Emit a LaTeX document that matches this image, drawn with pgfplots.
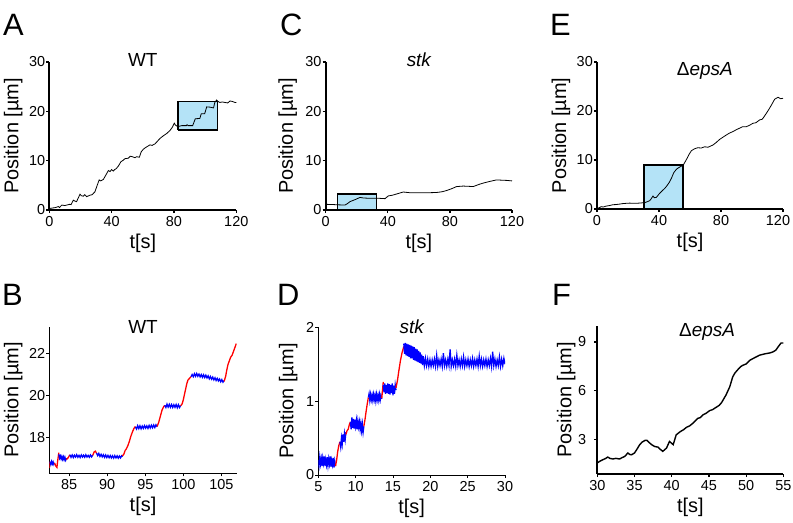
\documentclass[border=0pt]{standalone}
\usepackage{fontspec}
\setmainfont{Liberation Sans}
\usepackage{pgfplots}
\pgfplotsset{compat=1.18}
\definecolor{boxblue}{HTML}{B4E3F7}

\pgfplotsset{
  panel/.style={
    scale only axis, anchor=south west,
    axis lines=left, axis line style={-, line width=1.8bp},
    tick align=outside, major tick length=3bp,
    tick style={line width=1.2bp, black},
    /pgf/number format/assume math mode=true,
    tick label style={font=\fontsize{14.5}{16}\selectfont},
    yticklabel style={inner xsep=1bp},
    label style={font=\fontsize{20}{22}\selectfont},
    title style={font=\fontsize{19}{21}\selectfont, anchor=base},
    xlabel={t[s]}, ylabel={Position [µm]},
    xlabel style={at={(axis description cs:0.5,0)}, anchor=center, yshift=-33bp},
  },
  thin panel/.style={panel, axis line style={-, line width=0.8bp}, tick style={line width=0.8bp, black}},
  trace/.style={black, line width=0.8bp, no marks},
  blu/.style={blue, line width=1.3bp, no marks},
  rd/.style={red, line width=1.3bp, no marks},
}

\begin{document}
\begin{tikzpicture}
\useasboundingbox (0,0) rectangle (793bp,-523bp);

% panel letters
\foreach \l/\x/\y in {A/3/35, C/280/35, E/550/35, B/2/305, D/277/305, F/552/305}
  \node[anchor=base west, inner sep=0pt, font=\fontsize{31}{33}\selectfont] at (\x bp,-\y bp) {\l};

% A
\begin{axis}[panel, at={(49.3bp,-210bp)}, width=187bp, height=148bp,
  xmin=0, xmax=120, ymin=0, ymax=30, xtick={0,40,80,120}, ytick={0,10,20,30},
  title={WT}, title style={at={(0.5,1)}, yshift=-10bp},
  ylabel style={at={(axis description cs:0,0.5)}, anchor=center, yshift=36bp}]
\addplot[fill=boxblue, draw=black, line width=1.5bp] coordinates {(82.5,16.2) (107.8,16.2) (107.8,22) (82.5,22) (82.5,16.2)};
\addplot[trace] coordinates {(0,0.3) (2,0.4) (4,0.5) (5.8,0.7) (6.5,0.5) (8,1.0) (10,0.9) (13,1.15) (14,1.1) (15.4,2.0) (16.5,1.8) (17.5,1.7) (19.7,3.2) (20.5,2.9) (21.8,2.8) (22.8,3.1) (24,2.7) (26,3.0) (27.5,3.1) (29.3,3.7) (30.5,4.8) (32,6.1) (33,5.9) (34.7,6.2) (36.5,7.2) (37.9,8.0) (39,7.8) (40,8.2) (41,7.9) (42,8.2) (43,8.4) (44.3,8.9) (46,9.8) (47.5,10.1) (48.5,10.4) (50.7,10.5) (52,10.9) (53.3,10.8) (55,10.6) (56,10.8) (57.8,10.7) (59,11.8) (60.3,12.3) (61.5,12.6) (62.5,12.8) (64.6,13.2) (66,13.1) (67.8,13.4) (69,13.8) (71,14.5) (73,15.0) (75.3,15.5) (77.4,16.1) (79,16.8) (80.2,17.6) (81,17.2) (82.4,16.9) (85,17.1) (88,17.1) (88.4,17.3) (89,17.1) (92,17.1) (93.7,18.5) (96.6,18.55) (97.5,19.5) (99.7,19.5) (101,20.9) (103,20.85) (105.4,20.7) (106.2,21.8) (107.4,22.3) (108.3,22.0) (109.5,21.8) (111,21.9) (112.7,21.8) (114.5,21.7) (116,22.1) (117.5,22.0) (119.1,21.8) (120,21.8)};
\end{axis}

% C
\begin{axis}[panel, at={(325.7bp,-210bp)}, width=186.3bp, height=148bp,
  xmin=0, xmax=120, ymin=0, ymax=30, xtick={0,40,80,120}, ytick={0,10,20,30},
  title={\itshape stk}, title style={at={(0.5,1)}, yshift=-10bp},
  ylabel style={at={(axis description cs:0,0.5)}, anchor=center, yshift=38bp}]
\addplot[fill=boxblue, draw=black, line width=1.5bp] coordinates {(7.5,0) (32.8,0) (32.8,3.25) (7.5,3.25) (7.5,0)};
\addplot[trace] coordinates {(0,1.15) (4.9,1.1) (8,1.05) (12.4,1.0) (14,1.3) (15.7,1.7) (18.9,2.1) (22.1,2.55) (24,2.45) (26.4,2.4) (32.8,2.4) (38.2,2.3) (40.3,2.85) (43,3.0) (45.7,3.25) (50,3.65) (54.3,3.5) (60.7,3.5) (66,3.5) (71.4,3.55) (75,3.7) (77.9,3.95) (81,4.3) (84.3,4.75) (88.6,4.85) (92,4.8) (95,4.75) (99.3,5.25) (102,5.5) (105.8,5.8) (110,6.1) (113,6.05) (116.5,6.0) (120,5.9)};
\end{axis}

% E
\begin{axis}[panel, at={(597bp,-209bp)}, width=186bp, height=147bp,
  xmin=0, xmax=120, ymin=0, ymax=30, xtick={0,40,80}, ytick={0,10,20,30},
  extra x ticks={120}, extra x tick style={xticklabel style={xshift=-5bp}},
  title={Δ\textit{epsA}}, title style={at={(0.58,1)}, yshift=-19bp},
  ylabel style={at={(axis description cs:0,0.5)}, anchor=center, yshift=36bp}]
\addplot[fill=boxblue, draw=black, line width=1.5bp] coordinates {(30.3,0) (55.6,0) (55.6,8.95) (30.3,8.95) (30.3,0)};
\addplot[trace] coordinates {(0,0.1) (0.6,0.14) (2.8,0.48) (4,0.4) (6,0.6) (8,0.7) (10.3,0.88) (12,0.9) (14.6,1.0) (16.5,1.1) (18.9,1.16) (21,1.2) (24.3,1.16) (27,1.2) (30.8,1.3) (32.5,1.5) (34,1.7) (35,2.1) (36.1,2.65) (37,2.3) (38.3,2.38) (40.4,3.2) (42,3.7) (43.7,4.2) (45,4.7) (46.5,5.37) (48,6.26) (49.5,7.4) (51.2,8.1) (52.5,8.4) (53.8,8.64) (55.5,8.9) (56.8,9.6) (58.1,10.34) (59.5,11.2) (60.9,11.9) (63,12.3) (65,12.5) (67.3,12.45) (69.5,12.7) (71.6,12.6) (73,12.8) (74.8,13.06) (77,13.6) (79.1,14.2) (81,14.6) (83.4,15.1) (85.5,15.5) (87.7,15.8) (90,16.2) (92,16.5) (94,16.8) (96.3,16.8) (98.5,17.1) (100.6,17.5) (102.5,17.6) (105,18.2) (106.5,18.3) (107.5,18.7) (109.2,19.5) (111,20.4) (112.5,21.2) (114.6,22.4) (116.8,22.8) (118.5,22.5) (120,22.6)};
\end{axis}

% B
\begin{axis}[thin panel, at={(49.3bp,-473.3bp)}, width=187.4bp, height=146.6bp,
  xmin=82.4, xmax=107, ymin=16.3, ymax=23.25, xtick={85,90,...,105}, ytick={18,20,22},
  title={WT}, title style={at={(0.5,1)}, yshift=-12.5bp},
  ylabel style={at={(axis description cs:0,0.5)}, anchor=center, yshift=36bp}]
\addplot[rd] coordinates {(82.4,16.55) (82.5,16.85)};
\addplot[blu] coordinates {(82.5,16.85) (82.6,16.72) (82.7,16.86) (82.8,16.74) (82.9,16.84) (83.0,16.72) (83.1,16.8)};
\addplot[rd] coordinates {(83.1,16.78) (83.25,16.65) (83.4,16.58) (83.5,16.9) (83.65,17.28)};
\addplot[blu] coordinates {(83.65,17.2) (83.75,17.02) (83.85,17.12) (83.95,16.98) (84.05,17.1) (84.15,16.96) (84.25,17.08) (84.35,16.94) (84.45,17.06) (84.55,16.92) (84.65,17.02)};
\addplot[rd] coordinates {(84.65,16.95) (84.9,17.05) (85.1,17.18)};
\addplot[blu] coordinates {(85.1,17.18) (85.25,17.06) (85.4,17.17) (85.55,17.05) (85.7,17.16) (85.85,17.07) (86.0,17.18) (86.15,17.06) (86.3,17.15) (86.45,17.05) (86.6,17.17) (86.75,17.07) (86.9,17.16) (87.05,17.06) (87.2,17.18) (87.35,17.07) (87.5,17.15) (87.65,17.06) (87.8,17.17) (87.95,17.08) (88.1,17.16)};
\addplot[rd] coordinates {(88.1,17.15) (88.3,17.32) (88.45,17.35) (88.6,17.25)};
\addplot[blu] coordinates {(88.6,17.26) (88.75,17.14) (88.9,17.24) (89.05,17.1) (89.2,17.2) (89.35,17.08) (89.5,17.18) (89.65,17.06) (89.8,17.17) (89.95,17.05) (90.1,17.15) (90.25,17.04) (90.4,17.14) (90.55,17.03) (90.7,17.13) (90.85,17.02) (91.0,17.14) (91.15,17.03) (91.3,17.13) (91.45,17.02) (91.6,17.12) (91.75,17.03) (91.9,17.13) (92.0,17.08)};
\addplot[rd] coordinates {(92.0,17.12) (92.2,17.22) (92.35,17.38) (92.5,17.45) (92.7,17.6) (92.9,17.8) (93.1,18.05) (93.3,18.25) (93.5,18.42) (93.7,18.52)};
\addplot[blu] coordinates {(93.7,18.5) (93.85,18.4) (94.0,18.56) (94.15,18.42) (94.3,18.55) (94.45,18.41) (94.6,18.54) (94.75,18.43) (94.9,18.56) (95.05,18.44) (95.2,18.55) (95.35,18.43) (95.5,18.57) (95.65,18.45) (95.8,18.58) (95.95,18.46) (96.1,18.59) (96.25,18.47) (96.4,18.6) (96.55,18.5)};
\addplot[rd] coordinates {(96.55,18.52) (96.75,18.7) (96.9,18.9) (97.05,19.1) (97.2,19.3) (97.4,19.45) (97.55,19.52)};
\addplot[blu] coordinates {(97.55,19.52) (97.7,19.42) (97.85,19.58) (98.0,19.44) (98.15,19.57) (98.3,19.43) (98.45,19.56) (98.6,19.42) (98.75,19.55) (98.9,19.43) (99.05,19.56) (99.2,19.41) (99.35,19.55) (99.5,19.42) (99.65,19.52)};
\addplot[rd] coordinates {(99.65,19.5) (99.85,19.6) (100.0,19.8) (100.15,20.05) (100.3,20.3) (100.45,20.55) (100.6,20.72) (100.8,20.8) (101.0,20.88)};
\addplot[blu] coordinates {(101.0,20.88) (101.15,20.98) (101.3,20.88) (101.45,21.02) (101.6,20.9) (101.75,21.03) (101.9,20.9) (102.05,21.0) (102.2,20.87) (102.35,20.98) (102.5,20.85) (102.65,20.97) (102.8,20.84) (102.95,20.95) (103.1,20.82) (103.25,20.92) (103.4,20.78) (103.55,20.89) (103.7,20.76) (103.85,20.86) (104.0,20.73) (104.15,20.83) (104.3,20.7) (104.45,20.8) (104.6,20.68) (104.75,20.77) (104.9,20.64) (105.05,20.74) (105.2,20.62) (105.35,20.7)};
\addplot[rd] coordinates {(105.35,20.66) (105.55,20.9) (105.7,21.2) (105.85,21.45) (106.0,21.6) (106.2,21.8) (106.4,21.9) (106.6,22.1) (106.8,22.3) (106.95,22.45)};
\end{axis}

% D
\begin{axis}[thin panel, at={(318.3bp,-475bp)}, width=186.7bp, height=147.7bp,
  xmin=5, xmax=30, ymin=0, ymax=2, xtick={5,10,...,30}, ytick={0,1,2},
  title={\itshape stk}, title style={at={(0.5,1)}, yshift=-12bp},
  ylabel style={at={(axis description cs:0,0.5)}, anchor=center, yshift=30bp}]
\addplot[blu] coordinates {(5.0,0.20) (5.1,0.13) (5.2,0.24) (5.3,0.15) (5.4,0.22) (5.5,0.12) (5.6,0.23) (5.7,0.16) (5.8,0.25) (5.9,0.12) (6.0,0.21) (6.1,0.14) (6.2,0.24) (6.3,0.13) (6.4,0.22) (6.5,0.15) (6.6,0.25) (6.7,0.11) (6.8,0.20) (6.9,0.14) (7.0,0.23) (7.1,0.10) (7.2,0.19) (7.3,0.12)};
\addplot[rd] coordinates {(7.3,0.12) (7.45,0.20) (7.6,0.32) (7.75,0.40) (7.9,0.45)};
\addplot[blu] coordinates {(7.9,0.45) (8.0,0.38) (8.1,0.50) (8.2,0.42) (8.3,0.55) (8.4,0.45) (8.5,0.56) (8.6,0.48) (8.7,0.58)};
\addplot[rd] coordinates {(8.7,0.55) (8.85,0.60) (9.0,0.62) (9.15,0.68) (9.3,0.72)};
\addplot[blu] coordinates {(9.3,0.72) (9.4,0.62) (9.5,0.78) (9.6,0.64) (9.7,0.76) (9.8,0.63) (9.9,0.75) (10.0,0.66) (10.1,0.74) (10.2,0.62) (10.3,0.73) (10.4,0.65) (10.5,0.72) (10.6,0.62) (10.7,0.70) (10.8,0.60) (10.9,0.69) (11.0,0.58) (11.1,0.66)};
\addplot[rd] coordinates {(11.1,0.66) (11.25,0.75) (11.4,0.86) (11.55,0.96) (11.7,1.05)};
\addplot[blu] coordinates {(11.7,1.05) (11.8,1.10) (11.9,1.01) (12.0,1.09) (12.1,1.02) (12.2,1.08) (12.3,1.01) (12.4,1.09) (12.5,1.02) (12.6,1.08) (12.7,1.00) (12.8,1.09) (12.9,1.02) (13.0,1.08) (13.1,1.01) (13.2,1.09) (13.3,1.02) (13.4,1.08) (13.5,1.03)};
\addplot[rd] coordinates {(13.5,1.04) (13.6,1.15) (13.7,1.26)};
\addplot[blu] coordinates {(13.7,1.22) (13.8,1.12) (13.9,1.24) (14.0,1.10) (14.1,1.22) (14.2,1.11) (14.3,1.24) (14.4,1.10) (14.5,1.23) (14.6,1.09) (14.7,1.22) (14.8,1.11) (14.9,1.24) (15.0,1.08) (15.1,1.21) (15.2,1.10) (15.3,1.22) (15.4,1.15)};
\addplot[rd] coordinates {(15.4,1.18) (15.6,1.28) (15.8,1.42) (16.0,1.55) (16.2,1.65) (16.45,1.74)};
\addplot[blu] coordinates {(16.45,1.78) (16.55,1.64) (16.65,1.79) (16.75,1.62) (16.85,1.78) (16.95,1.61) (17.05,1.77) (17.15,1.6) (17.25,1.76) (17.35,1.58) (17.45,1.75) (17.55,1.58) (17.65,1.74) (17.75,1.56) (17.85,1.73) (17.95,1.55) (18.05,1.71) (18.15,1.54) (18.25,1.7) (18.35,1.53) (18.45,1.68) (18.55,1.52) (18.65,1.66) (18.75,1.51) (18.85,1.63) (18.95,1.49) (19.05,1.61) (19.2,1.48) (19.35,1.58) (19.5,1.48) (19.65,1.57) (19.8,1.47) (19.95,1.56) (20.1,1.47) (20.25,1.56) (20.4,1.48) (20.55,1.57) (20.7,1.47) (20.85,1.62) (21.0,1.47) (21.15,1.56) (21.3,1.48) (21.45,1.57) (21.6,1.47) (21.75,1.65) (21.9,1.48) (22.05,1.56) (22.2,1.47) (22.35,1.57) (22.5,1.48) (22.65,1.7) (22.8,1.47) (22.95,1.56) (23.1,1.48) (23.25,1.57) (23.4,1.47) (23.55,1.62) (23.7,1.48) (23.85,1.56) (24.0,1.47) (24.15,1.57) (24.3,1.48) (24.45,1.6) (24.6,1.47) (24.75,1.56) (24.9,1.48) (25.05,1.57) (25.2,1.47) (25.35,1.56) (25.5,1.48) (25.65,1.58) (25.8,1.47) (25.95,1.56) (26.1,1.48) (26.25,1.57) (26.4,1.47) (26.55,1.61) (26.7,1.48) (26.85,1.57) (27.0,1.47) (27.15,1.56) (27.3,1.48) (27.45,1.57) (27.6,1.47) (27.75,1.56) (27.9,1.48) (28.05,1.58) (28.2,1.47) (28.35,1.67) (28.5,1.48) (28.65,1.57) (28.8,1.47) (28.95,1.56) (29.1,1.48) (29.25,1.6) (29.4,1.47) (29.55,1.57) (29.7,1.48) (29.85,1.58) (30.0,1.5)};
\end{axis}

% F
\begin{axis}[panel, at={(597.3bp,-474bp)}, width=186bp, height=148.3bp,
  xmin=30, xmax=55, ymin=0.9, ymax=10, xtick={30,35,...,55}, ytick={3,6,9},
  yticklabel style={xshift=-7bp},
  title={Δ\textit{epsA}}, title style={at={(0.59,1)}, yshift=-17bp},
  ylabel style={at={(axis description cs:0,0.5)}, anchor=center, yshift=31bp}]
\addplot[black, line width=1.4bp, no marks] coordinates {(30,1.58) (30.4,1.7) (30.76,1.78) (31.1,1.85) (31.4,1.94) (31.7,1.86) (32.1,1.82) (32.5,1.86) (33,1.82) (33.3,1.9) (33.7,1.98) (34.1,2.19) (34.35,2.1) (34.6,2.08) (35,2.19) (35.3,2.4) (35.7,2.7) (36,2.85) (36.4,2.96) (36.7,2.96) (37,2.82) (37.3,2.7) (37.7,2.59) (38.15,2.55) (38.5,2.4) (38.8,2.29) (39.3,2.49) (39.7,2.9) (40.2,2.7) (40.6,3.3) (41.15,3.5) (41.6,3.62) (42,3.77) (42.4,3.85) (42.86,4.02) (43.5,4.32) (43.8,4.35) (44.2,4.53) (44.6,4.62) (45.1,4.79) (45.5,4.85) (46,5.0) (46.4,5.12) (46.7,5.28) (47.3,5.75) (47.8,6.25) (48.2,6.86) (48.5,7.1) (48.9,7.31) (49.3,7.5) (49.6,7.58) (50,7.65) (50.5,7.88) (51.2,8.05) (51.8,8.19) (52.3,8.25) (52.7,8.29) (53.2,8.33) (53.6,8.39) (54,8.5) (54.3,8.7) (54.7,8.94) (55,8.94)};
\end{axis}
\end{tikzpicture}
\end{document}
